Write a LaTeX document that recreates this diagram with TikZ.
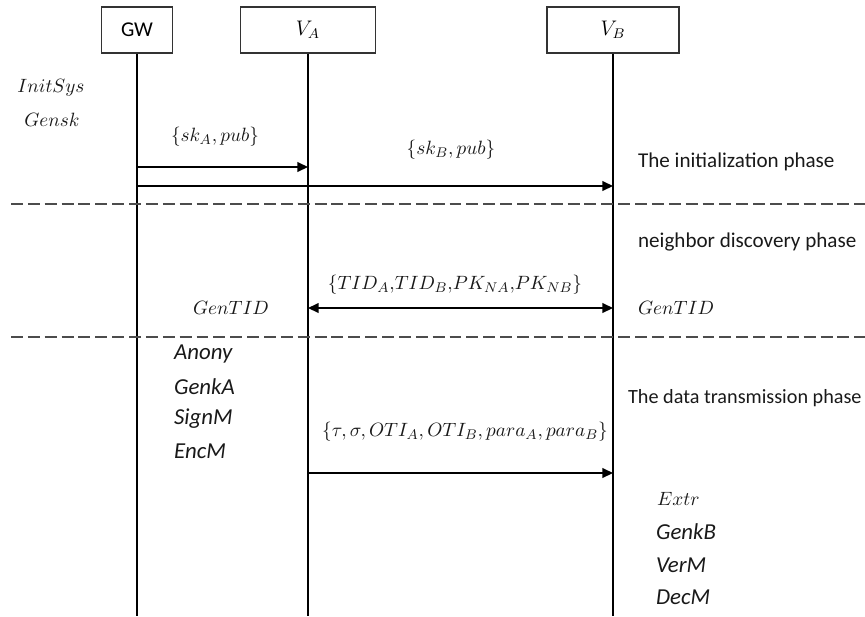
\documentclass[tikz,border=0pt]{standalone}
\usepackage{fontspec}
\setmainfont{Carlito}
\usetikzlibrary{arrows.meta,positioning,calc}

\begin{document}
\begin{tikzpicture}[x=0.02cm,y=-0.02cm,
    actor/.style={draw=black!80,line width=0.8pt,minimum height=0.92cm,inner sep=0pt,font=\fontsize{12}{14}\selectfont},
    life/.style={line width=0.6pt},
    msg/.style={line width=0.8pt,-{Triangle[length=6pt,width=5.5pt]}},
    phase/.style={draw=black!70,line width=1.5pt,dash pattern=on 6.8pt off 2.8pt},
    lbl/.style={font=\fontsize{11}{13}\selectfont,text=black!90,inner sep=1pt},
    phasetxt/.style={lbl,anchor=west,font=\fontsize{12}{14}\selectfont},
    fn/.style={lbl,anchor=west,font=\fontsize{13}{15}\selectfont\itshape}]
    \useasboundingbox (0,0) rectangle (865,616);
    % participants and lifelines
    \node[actor,minimum width=1.42cm] (gw) at (137,30) {GW};
    \node[actor,minimum width=2.7cm] (va) at (308,30) {$V_A$};
    \node[actor,minimum width=2.64cm] (vb) at (613,30) {$V_B$};
    \coordinate (bot) at (0,616);
    \draw[life] (gw.south) -- (gw |- bot);
    \draw[life] (va.south) -- (va |- bot);
    \draw[life] (vb.south) -- (vb |- bot);
    % phase separators
    \coordinate (d1l) at (11,204); \coordinate (d1r) at (865,204);
    \coordinate (d2l) at (11,337); \coordinate (d2r) at (865,337);
    \draw[phase] (d1l) -- (d1r);
    \draw[phase] (d2l) -- (d2r);
    % initialization phase
    \node[lbl] (initsys) at (51,88) {$InitSys$};
    \node[lbl] (gensk) at (52,120) {$Gensk$};
    \coordinate (m1) at (0,167);
    \coordinate (m2) at (0,186);
    \node[lbl] (ska) at (215,137) {$\{sk_A,pub\}$};
    \node[lbl] (skb) at (451,150) {$\{sk_B,pub\}$};
    \draw[msg] (gw |- m1) -- (va |- m1);
    \draw[msg] (gw |- m2) -- (vb |- m2);
    \node[phasetxt] (init) at (636,162) {The initialization phase};
    % neighbor discovery phase
    \node[phasetxt] (nbr) at (636,242) {neighbor discovery phase};
    \node[lbl] (tid) at (455,285) {$\{TID_A{,}TID_B{,}PK_{NA}{,}PK_{NB}\}$};
    \node[lbl] (gtida) at (231,308) {$GenTID$};
    \node[lbl,anchor=west] (gtidb) at (636,308) {$GenTID$};
    \coordinate (m3) at (0,308);
    \draw[msg,{Triangle[length=6pt,width=5.5pt]}-{Triangle[length=6pt,width=5.5pt]}] (va |- m3) -- (vb |- m3);
    % data transmission phase
    \node[fn] (anony) at (172,354) {Anony};
    \node[fn] (genka) at (172,387) {GenkA};
    \node[fn] (signm) at (172,419) {SignM};
    \node[fn] (encm) at (172,451) {EncM};
    \node[phasetxt,font=\fontsize{11.5}{14}\selectfont] (data) at (626,398) {The data transmission phase};
    \node[lbl] (pkt) at (465,432) {$\{\tau,\sigma,OTI_A,OTI_B,para_A,para_B\}$};
    \coordinate (m4) at (0,473);
    \draw[msg] (va |- m4) -- (vb |- m4);
    \node[lbl,anchor=west] (extr) at (655,499) {$Extr$};
    \node[fn] (genkb) at (654,532) {GenkB};
    \node[fn] (verm) at (654,565) {VerM};
    \node[fn] (decm) at (654,597) {DecM};
\end{tikzpicture}
\end{document}
